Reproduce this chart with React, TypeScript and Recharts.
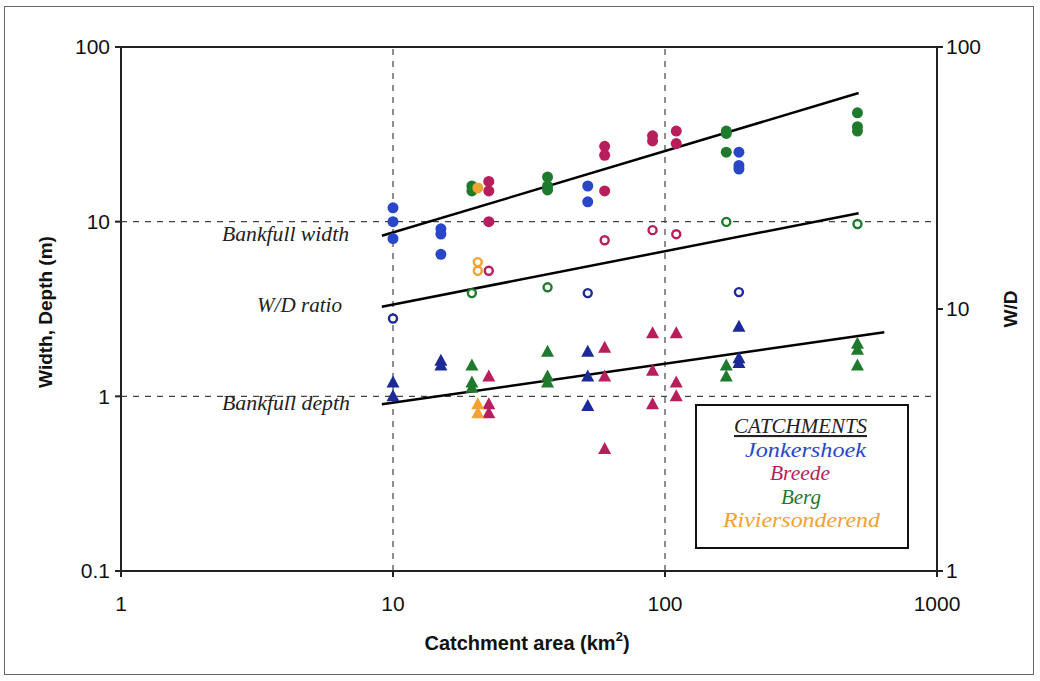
import { ScatterChart, Scatter, XAxis, YAxis, ReferenceLine } from 'recharts'

const AREA_TICKS = [1, 10, 100, 1000]
const DEPTH_TICKS = [0.1, 1, 10, 100]
const WD_TICKS = [1, 10, 100]

// [catchment area (km2), value]
const jonkWidth = [[10, 12], [10, 10], [10, 8], [15, 9.1], [15, 8.5], [15, 6.5], [52, 16], [52, 13], [187, 25], [187, 21], [187, 20]]
const breedeWidth = [[22.5, 17], [22.5, 15], [22.5, 10], [60, 27], [60, 24], [60, 15], [90, 31], [90, 29], [110, 33], [110, 28]]
const bergWidth = [[19.5, 16], [19.5, 15], [37, 18], [37, 16], [37, 15.2], [168, 33], [168, 32], [168, 25], [510, 42], [510, 35], [510, 33]]
const rivWidth = [[20.5, 15.6]]

const jonkWD = [[10, 9.2], [52, 11.5], [187, 11.6]]
const breedeWD = [[22.5, 14], [60, 18.3], [90, 20], [110, 19.3]]
const bergWD = [[19.5, 11.5], [37, 12.1], [168, 21.5], [510, 21.1]]
const rivWD = [[20.5, 15.1], [20.5, 14]]

const jonkDepth = [[10, 1.2], [10, 1.0], [15, 1.6], [15, 1.5], [52, 1.8], [52, 1.3], [52, 0.88], [187, 2.5], [187, 1.65], [187, 1.55]]
const breedeDepth = [[22.5, 1.3], [22.5, 0.9], [22.5, 0.8], [60, 1.9], [60, 1.3], [60, 0.5], [90, 2.3], [90, 1.4], [90, 0.9], [110, 2.3], [110, 1.2], [110, 1.0]]
const bergDepth = [[19.5, 1.5], [19.5, 1.2], [19.5, 1.12], [37, 1.8], [37, 1.3], [37, 1.2], [168, 1.5], [168, 1.3], [510, 2.0], [510, 1.85], [510, 1.5]]
const rivDepth = [[20.5, 0.9], [20.5, 0.8]]

// fitted power lines, end points
const widthFit = [[9.1, 8.3], [515, 54.5]]
const wdFit = [[9.1, 10.2], [515, 23.2]]
const depthFit = [[9.1, 0.9], [640, 2.33]]

const BLUE = '#2a46c8'
const BLUE_DARK = '#1c2a98'
const MAROON = '#b81e5c'
const GREEN = '#1f7a2e'
const ORANGE = '#f2a233'

const toPts = (arr: number[][]) => arr.map(([area, value]) => ({ area, value }))
const seg = (arr: number[][]) => arr.map(([x, y]) => ({ x, y }))

const dot = (color: string) => (p: any) => <circle cx={p.cx} cy={p.cy} r={5.5} fill={color} />
const ring = (color: string) => (p: any) => (
  <circle cx={p.cx} cy={p.cy} r={4} fill="#fff" stroke={color} strokeWidth={2.4} />
)
const tri = (color: string) => (p: any) => (
  <polygon
    points={`${p.cx},${p.cy - 7} ${p.cx - 6.5},${p.cy + 5} ${p.cx + 6.5},${p.cy + 5}`}
    fill={color}
  />
)

const sans = '"Liberation Sans", Arial, sans-serif'
const serif = '"Liberation Serif", "Times New Roman", serif'
const tickStyle = { fontSize: 21, fill: '#111', fontFamily: sans }

export default function App() {
  return (
    <div style={{ position: 'absolute', left: 0, top: 0, width: 1040, height: 681, background: '#fff' }}>
      <div style={{
        position: 'absolute', left: 4, top: 6, width: 1030, height: 669,
        border: '1.5px solid #666', boxSizing: 'border-box',
      }} />
      <div style={{ position: 'absolute', left: 0, top: 0 }}>
        <ScatterChart width={1040} height={681} margin={{ top: 47, right: 43, bottom: 80, left: 61 }}>
          <XAxis
            type="number"
            dataKey="area"
            scale="log"
            domain={[1, 1000]}
            ticks={AREA_TICKS}
            allowDataOverflow
            stroke="#222"
            strokeWidth={2}
            tickSize={6}
            tickMargin={19}
            tick={tickStyle}
          />
          <YAxis
            yAxisId="m"
            type="number"
            dataKey="value"
            scale="log"
            domain={[0.1, 100]}
            ticks={DEPTH_TICKS}
            allowDataOverflow
            width={60}
            stroke="#222"
            strokeWidth={2}
            tickSize={6}
            tickMargin={5}
            tick={tickStyle}
          />
          <YAxis
            yAxisId="wd"
            orientation="right"
            type="number"
            dataKey="value"
            scale="log"
            domain={[1, 100]}
            ticks={WD_TICKS}
            allowDataOverflow
            width={60}
            stroke="#222"
            strokeWidth={2}
            tickSize={6}
            tickMargin={3}
            tick={tickStyle}
          />

          <ReferenceLine yAxisId="m" y={100} stroke="#222" strokeWidth={2} />
          <ReferenceLine yAxisId="m" x={10} stroke="#444" strokeDasharray="6 6" strokeWidth={1.2} />
          <ReferenceLine yAxisId="m" x={100} stroke="#444" strokeDasharray="6 6" strokeWidth={1.2} />
          <ReferenceLine yAxisId="m" y={10} stroke="#444" strokeDasharray="6 6" strokeWidth={1.2} />
          <ReferenceLine yAxisId="m" y={1} stroke="#444" strokeDasharray="6 6" strokeWidth={1.2} />

          <ReferenceLine yAxisId="m" segment={seg(widthFit)} stroke="#000" strokeWidth={2.5} ifOverflow="visible" />
          <ReferenceLine yAxisId="wd" segment={seg(wdFit)} stroke="#000" strokeWidth={2.5} ifOverflow="visible" />
          <ReferenceLine yAxisId="m" segment={seg(depthFit)} stroke="#000" strokeWidth={2.5} ifOverflow="visible" />

          <Scatter yAxisId="m" data={toPts(jonkWidth)} shape={dot(BLUE)} isAnimationActive={false} />
          <Scatter yAxisId="m" data={toPts(breedeWidth)} shape={dot(MAROON)} isAnimationActive={false} />
          <Scatter yAxisId="m" data={toPts(bergWidth)} shape={dot(GREEN)} isAnimationActive={false} />
          <Scatter yAxisId="m" data={toPts(rivWidth)} shape={dot(ORANGE)} isAnimationActive={false} />

          <Scatter yAxisId="wd" data={toPts(jonkWD)} shape={ring(BLUE_DARK)} isAnimationActive={false} />
          <Scatter yAxisId="wd" data={toPts(breedeWD)} shape={ring(MAROON)} isAnimationActive={false} />
          <Scatter yAxisId="wd" data={toPts(bergWD)} shape={ring(GREEN)} isAnimationActive={false} />
          <Scatter yAxisId="wd" data={toPts(rivWD)} shape={ring(ORANGE)} isAnimationActive={false} />

          <Scatter yAxisId="m" data={toPts(jonkDepth)} shape={tri(BLUE_DARK)} isAnimationActive={false} />
          <Scatter yAxisId="m" data={toPts(breedeDepth)} shape={tri(MAROON)} isAnimationActive={false} />
          <Scatter yAxisId="m" data={toPts(bergDepth)} shape={tri(GREEN)} isAnimationActive={false} />
          <Scatter yAxisId="m" data={toPts(rivDepth)} shape={tri(ORANGE)} isAnimationActive={false} />
        </ScatterChart>
      </div>

      <svg width={1040} height={681} style={{ position: 'absolute', left: 0, top: 0, pointerEvents: 'none' }}>
        <text x={527} y={650} textAnchor="middle" fontFamily={sans} fontWeight="bold" fontSize={20} fill="#111">
          Catchment area (km<tspan dy={-9} fontSize={13}>2</tspan><tspan dy={9}>)</tspan>
        </text>
        <text
          transform="translate(52,312) rotate(-90)"
          textAnchor="middle"
          fontFamily={sans}
          fontWeight="bold"
          fontSize={19}
          fill="#111"
        >
          Width, Depth (m)
        </text>
        <text
          transform="translate(1017,309) rotate(-90)"
          textAnchor="middle"
          fontFamily={sans}
          fontWeight="bold"
          fontSize={19}
          fill="#111"
        >
          W/D
        </text>

        <g fontFamily={serif} fontStyle="italic" fontSize={20} fill="#222" lengthAdjust="spacingAndGlyphs">
          <text x={222} y={241} textLength={127} lengthAdjust="spacingAndGlyphs">Bankfull width</text>
          <text x={257} y={312} textLength={85} lengthAdjust="spacingAndGlyphs">W/D ratio</text>
          <text x={222} y={410} textLength={128} lengthAdjust="spacingAndGlyphs">Bankfull depth</text>
        </g>

        <rect x={696} y={405} width={212} height={143} fill="#fff" stroke="#111" strokeWidth={2} />
        <g fontFamily={serif} fontStyle="italic" fontSize={21}>
          <text x={734} y={433} fill="#222" textDecoration="underline" textLength={133} lengthAdjust="spacingAndGlyphs">CATCHMENTS</text>
          <text x={745} y={457} fill={BLUE} textLength={121} lengthAdjust="spacingAndGlyphs">Jonkershoek</text>
          <text x={770} y={480} fill={MAROON} textLength={60} lengthAdjust="spacingAndGlyphs">Breede</text>
          <text x={781} y={504} fill={GREEN} textLength={40} lengthAdjust="spacingAndGlyphs">Berg</text>
          <text x={723} y={527} fill={ORANGE} textLength={157} lengthAdjust="spacingAndGlyphs">Riviersonderend</text>
        </g>
      </svg>
    </div>
  )
}
